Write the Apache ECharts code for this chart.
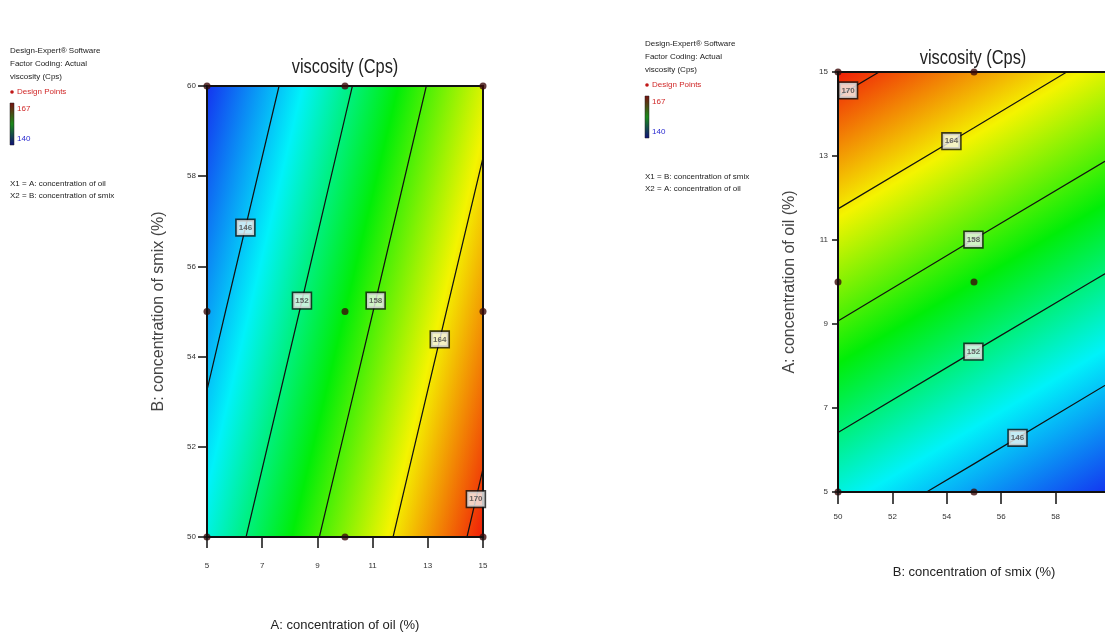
<!DOCTYPE html>
<html>
<head>
<meta charset="utf-8">
<script src="https://cdn.jsdelivr.net/npm/echarts@6/dist/echarts.min.js"></script>
<style>
  html, body { margin: 0; padding: 0; background: #fff; }
  #chart { width: 1105px; height: 635px; }
</style>
</head>
<body>
<div id="chart"></div>
<script>
// ---- data ----
const oilPct = [5, 10, 15];          // A: concentration of oil (%)
const smixPct = [50, 55, 60];        // B: concentration of smix (%)
// predicted viscosity (Cps); rows follow oilPct, columns follow smixPct
const viscosity = [
  [148.8, 144.5, 140.1],
  [160.1, 155.7, 151.4],
  [171.3, 167.0, 162.6]
];
const contourLevels = [146, 152, 158, 164, 170];
const responseRange = ['167', '140'];

// ---- layout ----
const SANS = "'Liberation Sans', Arial, sans-serif";
// smix value at which each contour label sits (left plot, right plot)
const labelSmixLeft = [56.86, 55.24, 55.24, 54.38, 50.84];
const labelSmixRight = [56.6, 54.98, 54.98, 54.17, 50.37];

const colourStops = [
  { offset: 0, color: '#1434f0' },
  { offset: 0.25, color: '#00f2fa' },
  { offset: 0.5, color: '#00ee08' },
  { offset: 0.75, color: '#f4f400' },
  { offset: 1, color: '#f01e08' }
];

// contour of one level, traced on the design grid edges, as [oil, smix] points
function contourPath(level) {
  const pts = [];
  const push = (a, b) => {
    if (!pts.some(p => Math.abs(p[0] - a) < 1e-6 && Math.abs(p[1] - b) < 1e-6)) pts.push([a, b]);
  };
  for (let j = 0; j < smixPct.length; j++) {
    for (let i = 0; i < oilPct.length - 1; i++) {
      const v0 = viscosity[i][j], v1 = viscosity[i + 1][j];
      if (v0 !== v1 && (level - v0) * (level - v1) <= 0) {
        const t = (level - v0) / (v1 - v0);
        push(oilPct[i] + t * (oilPct[i + 1] - oilPct[i]), smixPct[j]);
      }
    }
  }
  for (let i = 0; i < oilPct.length; i++) {
    for (let j = 0; j < smixPct.length - 1; j++) {
      const v0 = viscosity[i][j], v1 = viscosity[i][j + 1];
      if (v0 !== v1 && (level - v0) * (level - v1) <= 0) {
        const t = (level - v0) / (v1 - v0);
        push(oilPct[i], smixPct[j] + t * (smixPct[j + 1] - smixPct[j]));
      }
    }
  }
  pts.sort((p, q) => p[0] - q[0]);
  return pts;
}

// point of a contour path at a given smix value
function pointAtSmix(path, b) {
  for (let k = 0; k < path.length - 1; k++) {
    const p = path[k], q = path[k + 1];
    if ((b - p[1]) * (b - q[1]) <= 0 && p[1] !== q[1]) {
      const t = (b - p[1]) / (q[1] - p[1]);
      return [p[0] + t * (q[0] - p[0]), b];
    }
  }
  return path[Math.floor(path.length / 2)];
}

const allValues = viscosity.flat();
const vMin = Math.min(...allValues), vMax = Math.max(...allValues);
const paths = contourLevels.map(contourPath);

function buildPlot(gridIndex, swap, labelSmix) {
  const xy = (a, b) => swap ? [b, a] : [a, b];
  const last = oilPct.length - 1, lastB = smixPct.length - 1;
  const series = [];
  // colour field (planar response drawn as a linear gradient)
  series.push({
    type: 'custom',
    xAxisIndex: gridIndex, yAxisIndex: gridIndex,
    silent: true, z: 1, clip: false,
    data: [0],
    renderItem(params, api) {
      const p00 = api.coord(xy(oilPct[0], smixPct[0]));
      const p10 = api.coord(xy(oilPct[last], smixPct[0]));
      const p01 = api.coord(xy(oilPct[0], smixPct[lastB]));
      const p11 = api.coord(xy(oilPct[last], smixPct[lastB]));
      const v00 = viscosity[0][0], v10 = viscosity[last][0], v01 = viscosity[0][lastB];
      const u = [p10[0] - p00[0], p10[1] - p00[1]];
      const w = [p01[0] - p00[0], p01[1] - p00[1]];
      const du = v10 - v00, dw = v01 - v00;
      const det = u[0] * w[1] - u[1] * w[0];
      const gx = (du * w[1] - u[1] * dw) / det;
      const gy = (u[0] * dw - w[0] * du) / det;
      const g2 = gx * gx + gy * gy;
      const ts = (vMin - v00) / g2, te = (vMax - v00) / g2;
      const x0 = Math.min(p00[0], p11[0]), y0 = Math.min(p00[1], p11[1]);
      const wd = Math.abs(p11[0] - p00[0]), ht = Math.abs(p11[1] - p00[1]);
      return {
        type: 'group',
        children: [
          {
            type: 'rect',
            shape: { x: x0, y: y0, width: wd, height: ht },
            style: {
              fill: new echarts.graphic.LinearGradient(
                p00[0] + gx * ts, p00[1] + gy * ts,
                p00[0] + gx * te, p00[1] + gy * te,
                colourStops, true)
            }
          },
          {
            type: 'rect',
            shape: { x: x0, y: y0, width: wd, height: ht },
            style: { fill: 'none', stroke: '#111', lineWidth: 2 }
          }
        ]
      };
    }
  });
  // contour lines
  paths.forEach(path => {
    series.push({
      type: 'line',
      xAxisIndex: gridIndex, yAxisIndex: gridIndex,
      data: path.map(p => xy(p[0], p[1])),
      symbol: 'none', silent: true, z: 3,
      lineStyle: { color: '#111', width: 1.2 }
    });
  });
  // contour labels
  series.push({
    type: 'scatter',
    xAxisIndex: gridIndex, yAxisIndex: gridIndex,
    silent: true, z: 6, clip: false,
    symbol: 'rect', symbolSize: 1,
    itemStyle: { color: 'rgba(0,0,0,0)' },
    data: contourLevels.map((lv, k) => {
      const p = pointAtSmix(paths[k], labelSmix[k]);
      return { value: xy(p[0], p[1]), name: String(lv) };
    }),
    label: {
      show: true, position: 'inside', formatter: '{b}',
      fontFamily: SANS, fontSize: 8, fontWeight: 'bold', color: '#444',
      backgroundColor: '#f4f4f4', borderColor: '#111', borderWidth: 1.6,
      padding: [4, 2, 3, 2]
    }
  });
  // design points
  const design = [];
  oilPct.forEach(a => smixPct.forEach(b => design.push(xy(a, b))));
  series.push({
    type: 'scatter',
    xAxisIndex: gridIndex, yAxisIndex: gridIndex,
    silent: true, z: 5, clip: false,
    symbol: 'circle', symbolSize: 7,
    itemStyle: { color: '#3c0a0a' },
    data: design
  });
  return series;
}

function axisBase(extra) {
  return Object.assign({
    type: 'value',
    z: 10,
    nameLocation: 'middle',
    nameTextStyle: { fontFamily: SANS, fontSize: 13, color: '#222' },
    axisLine: { show: true, lineStyle: { color: '#111', width: 1.5 } },
    splitLine: { show: false }
  }, extra);
}

function tick(len) {
  return { show: true, length: len, lineStyle: { color: '#111', width: 1.5 } };
}
function tickLabel(margin) {
  return { fontFamily: SANS, fontSize: 8, color: '#333', margin: margin };
}

function legendBlock(x, y, factorLines) {
  const t = (text, dy, color, dx) => ({
    type: 'text', left: x + (dx || 0), top: y + dy,
    style: { text, fill: color || '#222', font: '8px ' + SANS }
  });
  return [
    t('Design-Expert® Software', 0),
    t('Factor Coding: Actual', 13),
    t('viscosity (Cps)', 26),
    { type: 'circle', shape: { cx: x + 2, cy: y + 45, r: 1.8 }, style: { fill: '#c01818' } },
    t('Design Points', 41, '#d02828', 7),
    {
      type: 'rect', shape: { x: x, y: y + 56, width: 4, height: 42 },
      style: {
        fill: new echarts.graphic.LinearGradient(0, 0, 0, 1, [
          { offset: 0, color: '#7a1010' },
          { offset: 0.5, color: '#1a8a1a' },
          { offset: 1, color: '#10107a' }
        ]),
        stroke: '#222', lineWidth: 0.5
      }
    },
    t(responseRange[0], 58, '#d02828', 7),
    t(responseRange[1], 88, '#2a2ad0', 7),
    t(factorLines[0], 133),
    t(factorLines[1], 145)
  ];
}

function titleText(cx, cy) {
  return {
    type: 'text', x: cx, y: cy, scaleX: 0.82,
    style: { text: 'viscosity (Cps)', font: '20px ' + SANS, fill: '#222', align: 'center', verticalAlign: 'middle' }
  };
}

const option = {
  animation: false,
  backgroundColor: '#fff',
  grid: [
    { left: 207, top: 86, width: 276, height: 451, show: false, outerBoundsMode: 'none', containLabel: false },
    { left: 838, top: 72, width: 272, height: 420, show: false, outerBoundsMode: 'none', containLabel: false }
  ],
  xAxis: [
    axisBase({
      gridIndex: 0, min: 5, max: 15, interval: 2,
      name: 'A: concentration of oil (%)', nameGap: 82,
      axisTick: tick(11), axisLabel: tickLabel(25)
    }),
    axisBase({
      gridIndex: 1, min: 50, max: 60, interval: 2,
      name: 'B: concentration of smix (%)', nameGap: 74,
      axisTick: tick(12), axisLabel: tickLabel(21)
    })
  ],
  yAxis: [
    axisBase({
      gridIndex: 0, min: 50, max: 60, interval: 2,
      name: 'B: concentration of smix (%)', nameGap: 40,
      nameTextStyle: { fontFamily: SANS, fontSize: 16, color: '#444' },
      axisTick: tick(9), axisLabel: tickLabel(11)
    }),
    axisBase({
      gridIndex: 1, min: 5, max: 15, interval: 2,
      name: 'A: concentration of oil (%)', nameGap: 40,
      nameTextStyle: { fontFamily: SANS, fontSize: 16, color: '#444' },
      axisTick: tick(6), axisLabel: tickLabel(10)
    })
  ],
  graphic: [titleText(345, 67), titleText(973, 58)]
    .concat(legendBlock(10, 47, ['X1 = A: concentration of oil', 'X2 = B: concentration of smix']))
    .concat(legendBlock(645, 40, ['X1 = B: concentration of smix', 'X2 = A: concentration of oil'])),
  series: buildPlot(0, false, labelSmixLeft).concat(buildPlot(1, true, labelSmixRight))
};

const chart = echarts.init(document.getElementById('chart'), null, { renderer: 'canvas' });
chart.setOption(option);
</script>
</body>
</html>
